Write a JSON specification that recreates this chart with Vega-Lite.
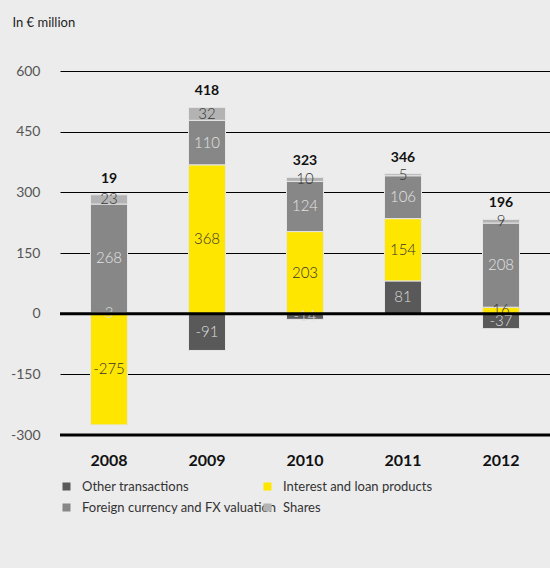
{
  "$schema": "https://vega.github.io/schema/vega-lite/v6.json",
  "autosize": "none",
  "width": 490,
  "height": 364,
  "padding": {"left": 60, "top": 71, "right": 0, "bottom": 133},
  "background": "#ececec",
  "config": {
    "view": {"stroke": null},
    "font": "Lato",
    "axis": {"labelFont": "Lato", "titleFont": "Lato"},
    "legend": {"labelFont": "Lato"}
  },
  "datasets": {
    "parts": [
      {"year": "2008", "series": "Other transactions", "k": 1, "value": 3},
      {"year": "2008", "series": "Interest and loan products", "k": 2, "value": -275},
      {"year": "2008", "series": "Foreign currency and FX valuation", "k": 3, "value": 268},
      {"year": "2008", "series": "Shares", "k": 4, "value": 23},
      {"year": "2009", "series": "Other transactions", "k": 1, "value": -91},
      {"year": "2009", "series": "Interest and loan products", "k": 2, "value": 368},
      {"year": "2009", "series": "Foreign currency and FX valuation", "k": 3, "value": 110},
      {"year": "2009", "series": "Shares", "k": 4, "value": 32},
      {"year": "2010", "series": "Other transactions", "k": 1, "value": -14},
      {"year": "2010", "series": "Interest and loan products", "k": 2, "value": 203},
      {"year": "2010", "series": "Foreign currency and FX valuation", "k": 3, "value": 124},
      {"year": "2010", "series": "Shares", "k": 4, "value": 10},
      {"year": "2011", "series": "Other transactions", "k": 1, "value": 81},
      {"year": "2011", "series": "Interest and loan products", "k": 2, "value": 154},
      {"year": "2011", "series": "Foreign currency and FX valuation", "k": 3, "value": 106},
      {"year": "2011", "series": "Shares", "k": 4, "value": 5},
      {"year": "2012", "series": "Other transactions", "k": 1, "value": -37},
      {"year": "2012", "series": "Interest and loan products", "k": 2, "value": 16},
      {"year": "2012", "series": "Foreign currency and FX valuation", "k": 3, "value": 208},
      {"year": "2012", "series": "Shares", "k": 4, "value": 9}
    ],
    "totals": [
      {"year": "2008", "total": 19},
      {"year": "2009", "total": 418},
      {"year": "2010", "total": 323},
      {"year": "2011", "total": 346},
      {"year": "2012", "total": 196}
    ],
    "lines": [{"v": 0}, {"v": -300}]
  },
  "layer": [
    {
      "data": {"name": "parts"},
      "mark": {"type": "bar", "size": 37, "stroke": "#e6e6e6", "strokeWidth": 1},
      "encoding": {
        "x": {
          "field": "year", "type": "nominal",
          "scale": {"paddingInner": 0, "paddingOuter": 0},
          "axis": {"title": null, "labelAngle": 0, "ticks": false, "domain": false, "labelPadding": 17, "labelFontSize": 16, "labelFontWeight": "bold", "labelColor": "#111"}
        },
        "y": {
          "field": "value", "type": "quantitative", "stack": "zero",
          "scale": {"domain": [-300, 600], "nice": false},
          "axis": {
            "values": [-300, -150, 0, 150, 300, 450, 600],
            "labelExpr": "datum.value + ''",
            "title": "In € million", "titleAngle": 0, "titleAlign": "left", "titleBaseline": "alphabetic",
            "titleX": -48, "titleY": -45, "titleFontSize": 13, "titleFontWeight": "normal", "titleColor": "#222",
            "ticks": false, "domain": false, "labelPadding": 20, "labelFontSize": 14, "labelColor": "#555",
            "gridColor": "#000", "gridWidth": 1, "gridOpacity": 1
          }
        },
        "color": {
          "field": "series", "type": "nominal",
          "scale": {
            "domain": ["Other transactions", "Interest and loan products", "Foreign currency and FX valuation", "Shares"],
            "range": ["#595959", "#ffe600", "#878787", "#b3b3b3"]
          },
          "legend": {
            "title": null, "orient": "none", "legendX": 0, "legendY": 409, "columns": 2, "direction": "horizontal",
            "gridAlign": "none", "columnPadding": -16, "rowPadding": 7, "labelLimit": 400,
            "symbolType": "square", "symbolSize": 64, "symbolStrokeWidth": 0, "labelFontSize": 13, "labelColor": "#333", "labelOffset": 9
          }
        },
        "order": {"field": "k", "type": "quantitative"}
      }
    },
    {
      "data": {"name": "parts"},
      "transform": [
        {"stack": "value", "groupby": ["year"], "sort": [{"field": "k", "order": "ascending"}], "as": ["v0", "v1"], "offset": "zero"},
        {"calculate": "(datum.v0 + datum.v1) / 2", "as": "mid"}
      ],
      "mark": {"type": "text", "fontSize": 15, "fontWeight": 300, "baseline": "middle"},
      "encoding": {
        "x": {"field": "year", "type": "nominal"},
        "y": {"field": "mid", "type": "quantitative"},
        "text": {"field": "value", "type": "nominal"},
        "color": {
          "field": "series", "type": "nominal",
          "scale": {
            "domain": ["Other transactions", "Interest and loan products", "Foreign currency and FX valuation", "Shares"],
            "range": ["#dddddd", "#333333", "#e4e4e4", "#333333"]
          },
          "legend": null
        }
      }
    },
    {
      "data": {"name": "parts"},
      "transform": [
        {"filter": "datum.value > 0"},
        {"aggregate": [{"op": "sum", "field": "value", "as": "top"}], "groupby": ["year"]},
        {"lookup": "year", "from": {"data": {"name": "totals"}, "key": "year", "fields": ["total"]}}
      ],
      "mark": {"type": "text", "fontSize": 14, "fontWeight": "bold", "dy": -16, "color": "#111"},
      "encoding": {
        "x": {"field": "year", "type": "nominal"},
        "y": {"field": "top", "type": "quantitative"},
        "text": {"field": "total", "type": "quantitative"}
      }
    },
    {
      "data": {"name": "lines"},
      "mark": {"type": "rule", "strokeWidth": 3, "color": "#000"},
      "encoding": {"y": {"field": "v", "type": "quantitative"}}
    }
  ],
  "resolve": {"scale": {"color": "independent"}}
}
